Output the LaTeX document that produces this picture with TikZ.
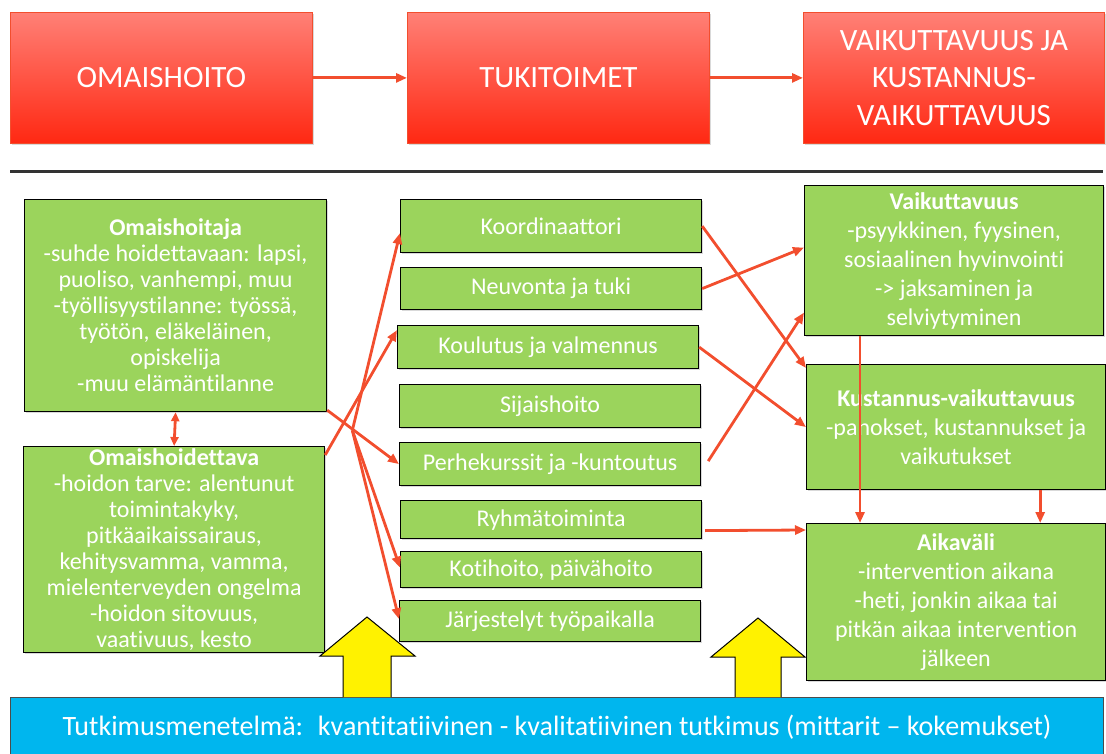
\documentclass[tikz,border=0pt]{standalone}
\usepackage{fontspec}
\setmainfont{Carlito}[Ligatures=NoCommon]
\usepackage{tikz}
\usetikzlibrary{positioning}
\usetikzlibrary{calc}
\usetikzlibrary{arrows.meta}
\usetikzlibrary{shadows}

\definecolor{boxgreen}{RGB}{155,212,92}
\definecolor{linered}{RGB}{242,78,46}
\definecolor{redtop}{RGB}{255,128,118}
\definecolor{redbottom}{RGB}{255,40,18}
\definecolor{basisblue}{RGB}{0,182,238}

\begin{document}
\begin{tikzpicture}[
		x=1pt, y=-1pt,
		every node/.style={
			shape=rectangle,
			align=center,
			text=white,
			anchor=north west,
			inner sep=2pt
		},
		topbox/.style={
			draw=linered, line width=0.8pt,
			top color=redtop, bottom color=redbottom,
			minimum height=131pt,
			font=\fontsize{31}{37.5}\selectfont,
			drop shadow={opacity=0.3, shadow xshift=1.5pt, shadow yshift=-1.5pt}
		},
		greenbox/.style={
			draw=black, line width=1.2pt, fill=boxgreen,
			font=\fontsize{24}{26}\selectfont,
			drop shadow={opacity=0.3, shadow xshift=1.5pt, shadow yshift=-1.5pt}
		},
		stepbox/.style={greenbox, minimum width=301pt},
		resultbox/.style={greenbox, minimum width=299pt, font=\fontsize{24}{29}\selectfont},
		norm/.style={-{Triangle[length=11pt, width=9pt]}, draw=linered, line width=2.8pt},
		both/.style={{Triangle[length=9pt, width=8pt]}-{Triangle[length=9pt, width=8pt]}, draw=linered, line width=2.8pt},
		bigarrow/.style={draw=black, line width=1pt, fill=yellow, line join=miter},
		rule/.style={draw=black!80, line width=3pt}
		]
		\useasboundingbox (0,0) rectangle (1106,754);

		\node[topbox, minimum width=302pt] (omaishoito) at (10,12) {OMAISHOITO};
		\node[topbox, minimum width=302pt] (tukitoimet) at (407,12) {TUKITOIMET};
		\node[topbox, minimum width=301pt] (vaikutus) at (803,12) {VAIKUTTAVUUS JA\\KUSTANNUS-\\VAIKUTTAVUUS};
		\draw[norm] (omaishoito) -- (tukitoimet);
		\draw[norm] (tukitoimet) -- (vaikutus);

		\draw[rule] (10,172) -- (1103,172);

		\node[greenbox, minimum width=302pt, minimum height=212pt] (hoitaja) at (24,199)
			{\textbf{Omaishoitaja}\\-suhde hoidettavaan: lapsi,\\puoliso, vanhempi, muu\\-työllisyystilanne: työssä,\\työtön, eläkeläinen,\\opiskelija\\-muu elämäntilanne};
		\node[greenbox, minimum width=301pt, minimum height=206pt] (hoidettava) at (23,446)
			{\textbf{Omaishoidettava}\\-hoidon tarve: alentunut\\toimintakyky,\\pitkäaikaissairaus,\\kehitysvamma, vamma,\\mielenterveyden ongelma\\-hoidon sitovuus,\\vaativuus, kesto};

		\node[stepbox, minimum height=53pt] (koord) at (400,199) {Koordinaattori};
		\node[stepbox, minimum height=42pt] (neuvonta) at (400,267) {Neuvonta ja tuki};
		\node[stepbox, minimum height=43pt] (koulutus) at (397,325) {Koulutus ja valmennus};
		\node[stepbox, minimum height=43pt] (sijais) at (399,384) {Sijaishoito};
		\node[stepbox, minimum height=43pt] (perhe) at (399,442) {Perhekurssit ja -kuntoutus};
		\node[stepbox, minimum height=38pt] (ryhma) at (400,500) {Ryhmätoiminta};
		\node[stepbox, minimum height=36pt] (koti) at (400,551) {Kotihoito, päivähoito};
		\node[stepbox, minimum height=41pt] (tyopaikka) at (399,600) {Järjestelyt työpaikalla};

		\node[resultbox, minimum height=150pt] (vaik) at (804,185)
			{\textbf{Vaikuttavuus}\\-psyykkinen, fyysinen,\\sosiaalinen hyvinvointi\\-> jaksaminen ja\\selviytyminen};
		\node[resultbox, minimum height=125pt] (kust) at (806,364)
			{\textbf{Kustannus-vaikuttavuus}\\-panokset, kustannukset ja\\vaikutukset};
		\node[resultbox, minimum height=157pt] (aika) at (806,523)
			{\textbf{Aikaväli}\\-intervention aikana\\-heti, jonkin aikaa tai\\pitkän aikaa intervention\\jälkeen};

		\node[draw=black!70, line width=1pt, fill=basisblue, minimum width=1093pt, minimum height=60pt,
			font=\fontsize{28}{32}\selectfont] (menetelma) at (10,697)
			{Tutkimusmenetelmä:~ kvantitatiivinen - kvalitatiivinen tutkimus (mittarit -- kokemukset)};

		\draw[bigarrow] (343,697) -- (343,656) -- (320,656) -- (367,617) -- (415,656) -- (391,656) -- (391,697);
		\draw[bigarrow] (735,697) -- (735,657) -- (711,657) -- (758,618) -- (805,657) -- (781,657) -- (781,697);

		\draw[both] (hoitaja.south) -- (hoidettava.north);
		\coordinate (hub) at ($(hoitaja.south east)!0.35!(perhe.west)$);
		\draw[norm] ([yshift=2pt]hoitaja.south east) -- (perhe.west);
		\draw[norm] ([yshift=-9pt]hoidettava.north east) -- ([yshift=17pt]koulutus.west);
		\draw[norm] (hub) -- ([yshift=-7pt]koord.west);
		\draw[norm] (hub) -- ([yshift=2pt]koti.west);
		\draw[norm] (hub) -- ([yshift=2pt]tyopaikka.west);

		\draw[norm] (koord.east) -- ([yshift=-4pt]kust.north west);
		\draw[norm] (neuvonta.east) -- ([yshift=13pt]vaik.west);
		\draw[norm] (koulutus.east) -- (kust.west);
		\draw[norm] ([xshift=7pt,yshift=3pt]perhe.east) -- ([yshift=-52pt]vaik.west);
		\draw[norm] ([xshift=3pt,yshift=-11pt]ryhma.east) -- ([yshift=-7pt]aika.north west);
		\draw[norm] ([xshift=56pt]vaik.south west) -- ([xshift=56pt]vaik.south west |- aika.north);
		\draw[norm] ([xshift=-66pt]kust.south east) -- ([xshift=-66pt]kust.south east |- aika.north);
	\end{tikzpicture}
\end{document}
